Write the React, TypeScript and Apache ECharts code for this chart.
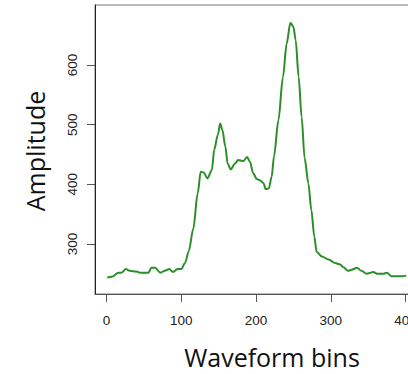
import { useEffect, useRef } from "react";
import * as echarts from "echarts";

const bins = [1, 7, 16, 20, 26, 31, 40, 45, 56, 60, 65, 72, 78, 84, 89, 95, 100, 105, 110, 116, 122, 126, 130, 135, 141, 144, 149, 152, 155, 159, 162, 166, 172, 176, 183, 188, 192, 196, 201, 205, 210, 213, 217, 221, 224, 230, 236, 241, 246, 250, 253, 257, 261, 265, 270, 274, 278, 281, 288, 297, 306, 312, 317, 323, 328, 335, 341, 348, 357, 362, 370, 375, 381, 388, 395, 401];
const amplitude = [244, 245, 252, 252, 258, 255, 254, 252, 252, 260, 260, 252, 255, 258, 253, 258, 258, 268, 288, 325, 385, 421, 420, 410, 424, 458, 483, 502, 491, 463, 435, 425, 435, 441, 439, 446, 438, 419, 409, 407, 402, 392, 393, 413, 447, 508, 580, 636, 671, 664, 642, 580, 513, 444, 402, 357, 312, 287, 279, 274, 268, 266, 261, 255, 257, 260, 255, 250, 253, 250, 250, 252, 246, 246, 246, 247];
const xTicks = [0, 100, 200, 300, 400];
const yTicks = [300, 400, 500, 600];
const xTitle = "Waveform bins";
const yTitle = "Amplitude";

export default function App() {
  const ref = useRef<HTMLDivElement>(null);
  useEffect(() => {
    document.body.style.margin = "0";
    const chart = echarts.init(ref.current!, null, { renderer: "svg" });
    const data = bins.map((b, i) => [b, amplitude[i]]);
    chart.setOption({
      animation: false,
      backgroundColor: "#ffffff",
      grid: {
        left: 95,
        top: 5,
        width: 322.5,
        height: 289,
        show: true,
        borderColor: "#777",
        borderWidth: 1,
        outerBoundsMode: "none",
      },
      xAxis: {
        type: "value",
        min: -15.4,
        max: 416,
        splitLine: { show: false },
        axisLine: { show: true, onZero: false, lineStyle: { color: "#555", width: 1 } },
        axisTick: { show: true, customValues: xTicks, length: 8, lineStyle: { color: "#555" } },
        axisLabel: {
          customValues: xTicks,
          margin: 19,
          fontFamily: "Liberation Sans",
          fontSize: 13.5,
          color: "#222",
        },
      },
      yAxis: {
        type: "value",
        min: 216.2,
        max: 700.6,
        splitLine: { show: false },
        axisLine: { show: true, onZero: false, lineStyle: { color: "#222", width: 1 } },
        axisTick: { show: true, customValues: yTicks, length: 8, lineStyle: { color: "#555" } },
        axisLabel: {
          customValues: yTicks,
          rotate: 90,
          margin: 16,
          fontFamily: "Liberation Sans",
          fontSize: 13.5,
          color: "#222",
        },
      },
      series: [
        {
          type: "line",
          data,
          showSymbol: false,
          smooth: 0.3,
          smoothMonotone: "x",
          lineStyle: { color: "#2a8f2a", width: 2 },
        },
      ],
      graphic: [
        {
          type: "text",
          x: 272,
          y: 357,
          style: {
            text: xTitle,
            font: "25px 'Open Sans'",
            fill: "#111",
            align: "center",
            verticalAlign: "middle",
          },
        },
        {
          type: "text",
          x: 35,
          y: 151,
          rotation: Math.PI / 2,
          style: {
            text: yTitle,
            font: "25px 'Open Sans'",
            fill: "#111",
            align: "center",
            verticalAlign: "middle",
          },
        },
      ],
    });
    return () => chart.dispose();
  }, []);
  return (
    <div style={{ width: 408, height: 374, overflow: "hidden", position: "relative" }}>
      <div ref={ref} style={{ width: 430, height: 374 }} />
    </div>
  );
}
